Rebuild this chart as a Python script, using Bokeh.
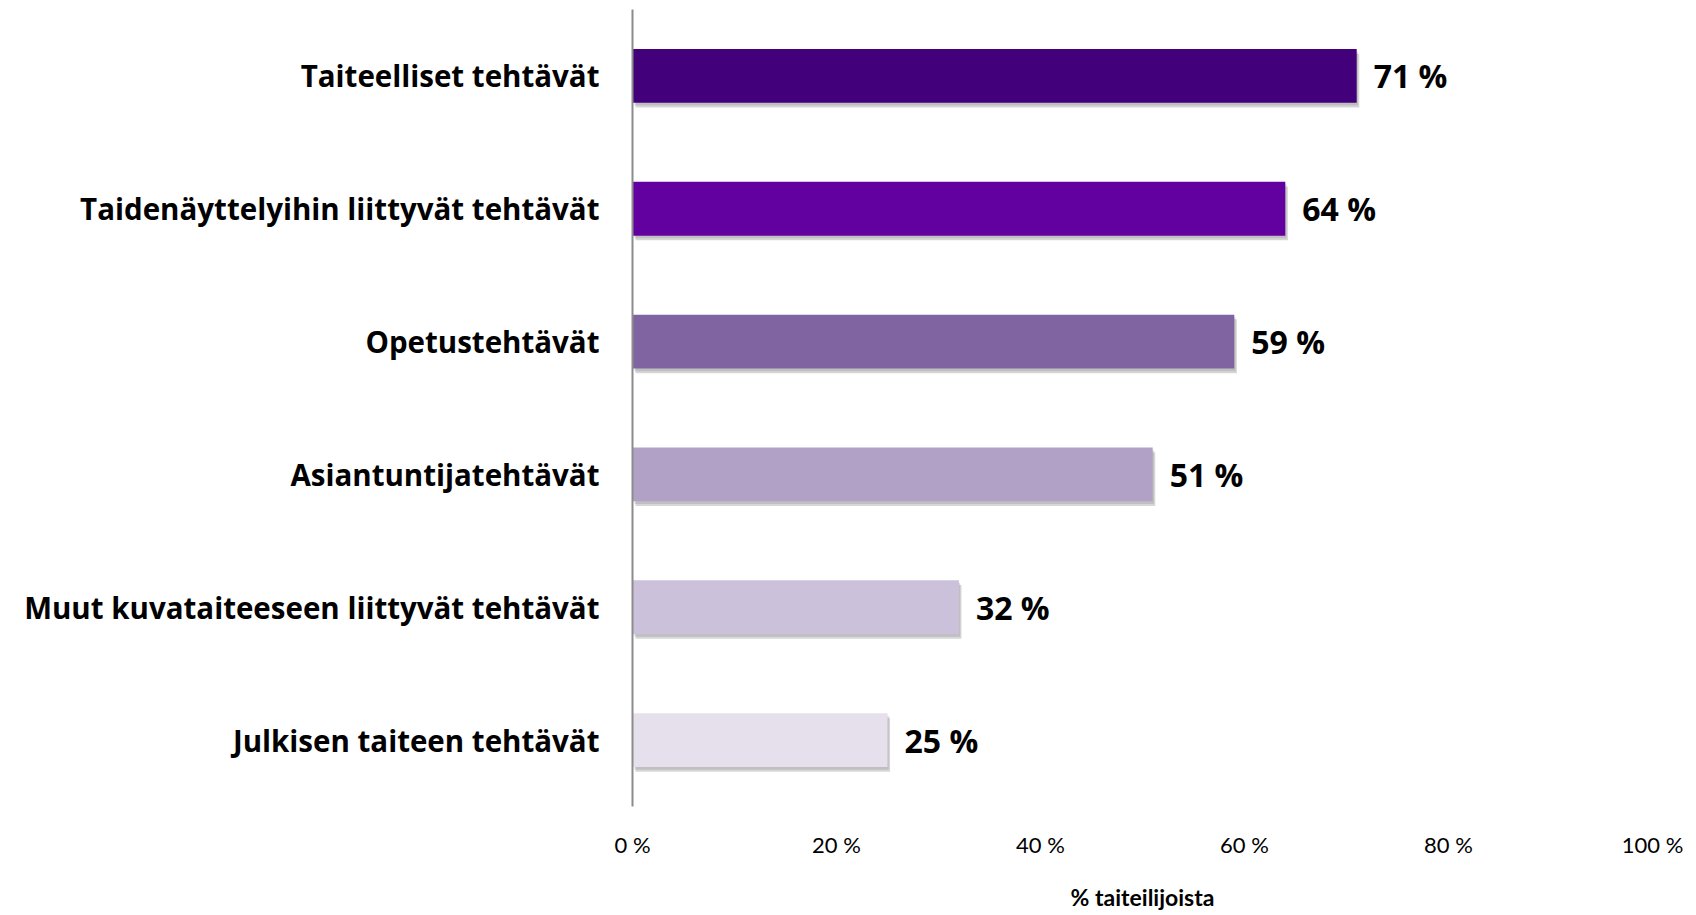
from bokeh.plotting import figure
from bokeh.models import ColumnDataSource, FactorRange, Range1d, FixedTicker, CustomJSTickFormatter
from bokeh.transform import dodge
from bokeh.core.properties import value
from bokeh.embed import file_html
from bokeh.resources import INLINE

categories = [
    "Taiteelliset tehtävät",
    "Taidenäyttelyihin liittyvät tehtävät",
    "Opetustehtävät",
    "Asiantuntijatehtävät",
    "Muut kuvataiteeseen liittyvät tehtävät",
    "Julkisen taiteen tehtävät",
]
values = [71, 64, 59, 51, 32, 25]
colors = ["#42007A", "#6300A0", "#8064A2", "#B2A1C7", "#CCC1DA", "#E5E0EC"]
labels = [f"{v} %" for v in values]
x_ticks = [0, 20, 40, 60, 80, 100]

src = ColumnDataSource(dict(cat=categories, val=values, color=colors, label=labels))

p = figure(
    width=1690, height=915,
    y_range=FactorRange(*reversed(categories)),
    x_range=Range1d(0, 100),
    output_backend="svg", toolbar_location=None,
    min_border_left=632, min_border_right=38, min_border_top=9, min_border_bottom=109,
)
p.outline_line_color = None
p.grid.grid_line_color = None

# soft shadow
p.hbar(y=dodge("cat", -0.035, range=p.y_range), right=dodge("val", 0.25), left=0.3,
       height=0.405, source=src, fill_color="#8a8a8a", fill_alpha=0.35, line_color=None)
p.hbar(y=dodge("cat", -0.02, range=p.y_range), right=dodge("val", 0.12), left=0.2,
       height=0.405, source=src, fill_color="#8a8a8a", fill_alpha=0.3, line_color=None)
p.hbar(y="cat", right="val", left=0, height=0.405, source=src,
       fill_color="color", line_color=None)

p.text(x="val", y="cat", text="label", source=src, x_offset=17,
       text_baseline="middle", text_align="left",
       text_font=value("Open Sans"), text_font_style="bold", text_font_size="32px",
       text_color="#000000")

# x axis
p.xaxis.ticker = FixedTicker(ticks=x_ticks)
p.xaxis.formatter = CustomJSTickFormatter(code="return tick + ' %';")
p.xaxis.axis_line_color = None
p.xaxis.major_tick_line_color = None
p.xaxis.minor_tick_line_color = None
p.xaxis.major_label_standoff = 18
p.xaxis.major_label_text_font = "Lato"
p.xaxis.major_label_text_font_size = "22px"
p.xaxis.major_label_text_color = "#000000"
p.xaxis.axis_label = "% taiteilijoista"
p.xaxis.axis_label_text_font = "Lato"
p.xaxis.axis_label_text_font_style = "bold"
p.xaxis.axis_label_text_font_size = "23px"
p.xaxis.axis_label_text_color = "#000000"
p.xaxis.axis_label_standoff = 22

# y axis
p.yaxis.axis_line_color = "#8c8c8c"
p.yaxis.axis_line_width = 2
p.yaxis.major_tick_line_color = None
p.yaxis.minor_tick_line_color = None
p.yaxis.major_label_standoff = 27
p.yaxis.major_label_text_font = "Open Sans"
p.yaxis.major_label_text_font_style = "bold"
p.yaxis.major_label_text_font_size = "29.5px"
p.yaxis.major_label_text_color = "#000000"

open("out.html", "w").write(file_html(p, INLINE))
